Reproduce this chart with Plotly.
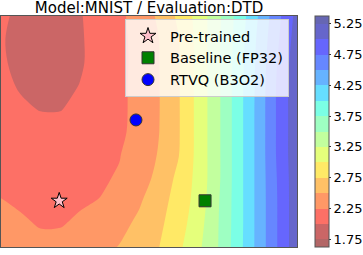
import numpy as np
import plotly.graph_objects as go

# ---------------- data ----------------
title_text = "Model:MNIST / Evaluation:DTD"
grid_x = list(range(16))          # grid columns (left -> right)
grid_y = list(range(11))          # grid rows (bottom -> top)

# loss surface values, rows bottom -> top
z_values = [
    [2.34, 2.30, 2.29, 2.30, 2.36, 2.43, 2.51, 2.63, 2.746, 2.95, 3.20, 3.497, 3.89, 4.32, 4.75, 5.17],
    [2.30, 2.27, 2.24, 2.24, 2.275, 2.35, 2.43, 2.55, 2.70, 2.89, 3.15, 3.49, 3.88, 4.32, 4.75, 5.17],
    [2.255, 2.23, 2.21, 2.21, 2.23, 2.255, 2.36, 2.47, 2.65, 2.85, 3.10, 3.475, 3.88, 4.32, 4.75, 5.17],
    [2.21, 2.17, 2.15, 2.16, 2.19, 2.22, 2.27, 2.40, 2.56, 2.815, 3.08, 3.45, 3.88, 4.32, 4.76, 5.17],
    [2.17, 2.13, 2.11, 2.11, 2.14, 2.19, 2.24, 2.37, 2.515, 2.74, 3.08, 3.45, 3.88, 4.32, 4.78, 5.18],
    [2.13, 2.09, 2.07, 2.07, 2.10, 2.15, 2.21, 2.32, 2.495, 2.73, 3.08, 3.45, 3.88, 4.32, 4.78, 5.18],
    [2.09, 2.03, 1.99, 1.99, 2.05, 2.12, 2.20, 2.32, 2.49, 2.73, 3.08, 3.45, 3.88, 4.32, 4.78, 5.18],
    [2.05, 1.98, 1.93, 1.94, 2.005, 2.10, 2.20, 2.32, 2.49, 2.73, 3.08, 3.45, 3.88, 4.31, 4.78, 5.18],
    [2.03, 1.94, 1.89, 1.91, 1.975, 2.085, 2.19, 2.32, 2.495, 2.73, 3.08, 3.45, 3.87, 4.30, 4.75, 5.16],
    [2.02, 1.93, 1.88, 1.90, 1.975, 2.09, 2.19, 2.33, 2.50, 2.74, 3.08, 3.45, 3.85, 4.28, 4.71, 5.12],
    [2.04, 1.95, 1.91, 1.92, 1.985, 2.09, 2.20, 2.35, 2.54, 2.80, 3.09, 3.44, 3.83, 4.24, 4.67, 5.08],
]

level_start, level_end, level_step = 1.75, 5.25, 0.25
cbar_ticks = [1.75, 2.25, 2.75, 3.25, 3.75, 4.25, 4.75, 5.25]

point_names = ["Pre-trained", "Baseline (FP32)", "RTVQ (B3O2)"]
point_x = [2.95, 10.34, 6.84]
point_y = [2.0, 2.0, 5.5]

# ---------------- colours: jet_r at alpha 0.6 over white ----------------
def jet(t):
    r = np.interp(t, [0, 0.35, 0.66, 0.89, 1], [0, 0, 1, 1, 0.5])
    g = np.interp(t, [0, 0.125, 0.375, 0.64, 0.91, 1], [0, 0, 1, 1, 0, 0])
    b = np.interp(t, [0, 0.11, 0.34, 0.65, 1], [0.5, 1, 1, 0, 0])
    return r, g, b

def val_color(v):
    t = min(max((v - level_start) / (level_end - level_start), 0), 1)
    r, g, b = jet(1 - t)
    a = 0.6
    return "rgb(%d,%d,%d)" % tuple(round(255 * (a * c + 1 - a)) for c in (r, g, b))

n_levels = int(round((level_end - level_start) / level_step)) + 1
lo = level_start - level_step / 2
hi = level_start + (n_levels - 0.5) * level_step
colorscale = []
for p in np.linspace(0, 1, 121):
    v = lo + p * (hi - lo)
    colorscale.append([float(p), val_color(v)])

fig = go.Figure()
fig.add_trace(go.Contour(
    x=grid_x, y=grid_y, z=z_values,
    autocontour=False,
    contours=dict(start=level_start, end=level_end, size=level_step,
                  coloring="fill", showlines=False),
    line=dict(width=0),
    colorscale=colorscale,
    showlegend=False,
    hoverinfo="skip",
    colorbar=dict(
        x=(315 - 1) / 296, xanchor="left", xpad=0, ypad=0,
        y=0.5, yanchor="middle", len=1, lenmode="fraction",
        thickness=14, thicknessmode="pixels",
        outlinewidth=1, outlinecolor="#555555",
        tickmode="array", tickvals=cbar_ticks,
        ticktext=["%.2f" % t for t in cbar_ticks],
        ticks="outside", ticklen=2, tickcolor="#333333",
        tickfont=dict(family="DejaVu Sans", size=13, color="black"),
    ),
))

styles = [
    dict(symbol="star", size=12, color="pink", line=dict(color="black", width=1)),
    dict(symbol="square", size=12, color="green", line=dict(color="#333333", width=1)),
    dict(symbol="circle", size=12, color="blue", line=dict(color="#333333", width=1)),
]
for name, px, py, st in zip(point_names, point_x, point_y, styles):
    fig.add_trace(go.Scatter(x=[px], y=[py], mode="markers", name=name, marker=st,
                             hoverinfo="skip"))

fig.update_layout(
    width=363, height=255,
    margin=dict(l=1, r=66, t=16, b=8, autoexpand=False),
    paper_bgcolor="white", plot_bgcolor="white",
    title=dict(text=title_text, x=149 / 363, xanchor="center",
               y=1 - 7.5 / 255, yanchor="middle", yref="container",
               font=dict(family="DejaVu Sans", size=15, color="black")),
    legend=dict(x=(289 - 1) / 296, xanchor="right", y=1 - 3 / 231, yanchor="top",
                bgcolor="rgba(255,255,255,0.8)", bordercolor="#cccccc", borderwidth=1,
                font=dict(family="DejaVu Sans", size=14.5, color="black"),
                itemwidth=34, tracegroupgap=0),
    xaxis=dict(range=[0, 15], showticklabels=False, ticks="", showgrid=False, zeroline=False,
               showline=True, mirror=True, linecolor="#555555", linewidth=1),
    yaxis=dict(range=[0, 10], showticklabels=False, ticks="", showgrid=False, zeroline=False,
               showline=True, mirror=True, linecolor="#555555", linewidth=1),
)

fig.write_html("out.html", config={"displayModeBar": False},
               post_script="document.body.style.margin='0';document.body.style.padding='0';")
